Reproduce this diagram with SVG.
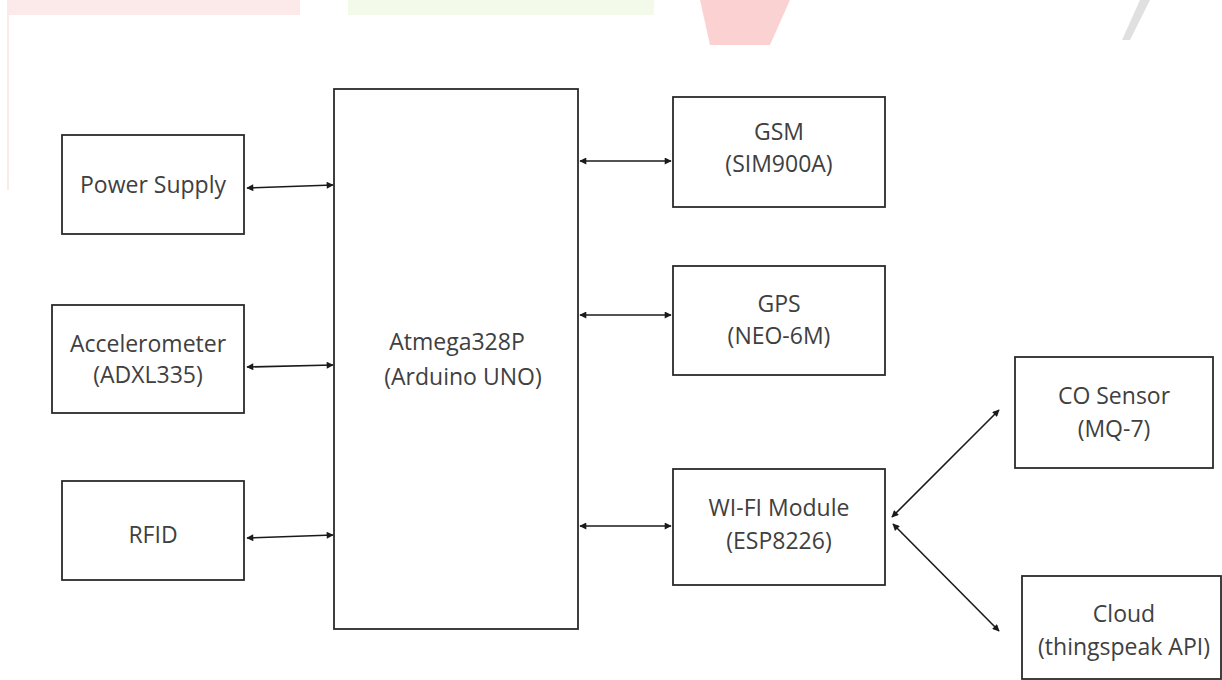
<svg xmlns="http://www.w3.org/2000/svg" width="1222" height="680" viewBox="0 0 1222 680">
<style>
.box{fill:#fff;stroke:#2b2b2b;stroke-width:1.8}
.t{font-family:"Open Sans","Liberation Sans",sans-serif;font-size:23px;fill:#404040;text-anchor:middle}
.c{stroke:#1a1a1a;stroke-width:1.6;fill:none;marker-start:url(#ah);marker-end:url(#ah)}
</style>
<defs>
<marker id="ah" viewBox="0 0 10 10" refX="9" refY="5" markerWidth="9" markerHeight="7" markerUnits="userSpaceOnUse" orient="auto-start-reverse">
<path d="M0,0 L10,5 L0,10 z" fill="#1a1a1a"/>
</marker>
</defs>
<rect width="1222" height="680" fill="#fff"/>
<g id="watermark" opacity="0.3">
<rect x="8" y="0" width="292" height="15" fill="#f6b8b8"/>
<line x1="8" y1="0" x2="8" y2="190" stroke="#f6b8b8" stroke-width="2"/>
<rect x="348" y="0" width="306" height="15" fill="#d8efb8"/>
<path d="M700,0 L790,0 L770,45 L710,45 z" fill="#f26b6b"/>
<path d="M1140,0 L1150,0 L1130,40 L1122,40 z" fill="#999"/>
</g>
<g id="connectors">
<line class="c" x1="247" y1="188" x2="333" y2="185"/>
<line class="c" x1="247" y1="367" x2="333" y2="365"/>
<line class="c" x1="247" y1="538" x2="333" y2="535"/>
<line class="c" x1="580" y1="161" x2="671" y2="161"/>
<line class="c" x1="580" y1="315" x2="671" y2="315"/>
<line class="c" x1="580" y1="526" x2="671" y2="526"/>
<line class="c" x1="892" y1="517" x2="999" y2="410"/>
<line class="c" x1="893" y1="524" x2="999" y2="631"/>
</g>
<g id="power">
<rect class="box" x="62" y="135" width="182" height="99"/>
<text class="t" x="153" y="193">Power Supply</text>
</g>
<g id="accel">
<rect class="box" x="52" y="305" width="192" height="108"/>
<text class="t" x="148" y="352">Accelerometer</text>
<text class="t" x="148" y="383">(ADXL335)</text>
</g>
<g id="rfid">
<rect class="box" x="62" y="481" width="182" height="99"/>
<text class="t" x="153" y="543">RFID</text>
</g>
<g id="mcu">
<rect class="box" x="334" y="89" width="244" height="540"/>
<text class="t" x="457" y="350">Atmega328P</text>
<text class="t" x="463" y="385">(Arduino UNO)</text>
</g>
<g id="gsm">
<rect class="box" x="673" y="97" width="212" height="110"/>
<text class="t" x="779" y="140">GSM</text>
<text class="t" x="779" y="172">(SIM900A)</text>
</g>
<g id="gps">
<rect class="box" x="673" y="266" width="212" height="109"/>
<text class="t" x="779" y="312">GPS</text>
<text class="t" x="779" y="344">(NEO-6M)</text>
</g>
<g id="wifi">
<rect class="box" x="673" y="469" width="212" height="116"/>
<text class="t" x="779" y="516">WI-FI Module</text>
<text class="t" x="779" y="549">(ESP8226)</text>
</g>
<g id="co">
<rect class="box" x="1015" y="357" width="198" height="111"/>
<text class="t" x="1114" y="404">CO Sensor</text>
<text class="t" x="1114" y="437">(MQ-7)</text>
</g>
<g id="cloud">
<rect class="box" x="1022" y="576" width="199" height="103"/>
<text class="t" x="1124" y="622">Cloud</text>
<text class="t" x="1124" y="655">(thingspeak API)</text>
</g>
</svg>
